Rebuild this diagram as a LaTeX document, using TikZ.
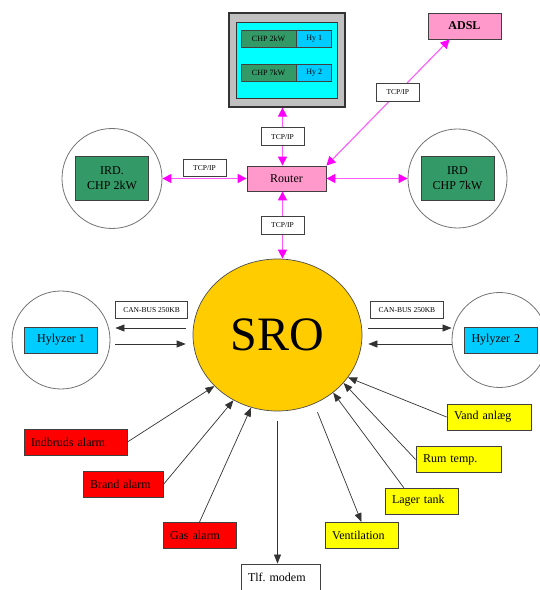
\documentclass[tikz,border=0pt]{standalone}
\usepackage{fontspec}
\setmainfont{Liberation Serif}
\usetikzlibrary{arrows.meta,shapes.geometric,calc}

\definecolor{irdgreen}{RGB}{51,153,102}
\definecolor{hycyan}{RGB}{0,204,255}
\definecolor{moncyan}{RGB}{0,255,255}
\definecolor{mongray}{RGB}{192,192,192}
\definecolor{netpink}{RGB}{255,153,204}
\definecolor{sroyellow}{RGB}{255,204,0}
\definecolor{alarmred}{RGB}{255,0,0}
\definecolor{sensoryellow}{RGB}{255,255,0}
\definecolor{netmag}{RGB}{255,0,255}

\begin{document}
\frenchspacing
\begin{tikzpicture}[x=1pt,y=1pt,
	box/.style={draw=black!75, line width=0.8pt, inner sep=0pt, font=\fontsize{12}{15}\selectfont},
	sensor/.style={box, minimum height=26pt, text width=#1, align=left, inner xsep=7pt},
	minibox/.style={box, minimum height=17pt, font=\fontsize{8}{9}\selectfont},
	ring/.style={circle, draw=black!55, line width=0.8pt, minimum size=#1},
	tag/.style={draw=black!75, fill=white, line width=0.6pt, inner xsep=8pt, inner ysep=0pt,
		minimum height=17pt, font=\fontsize{7.5}{8}\selectfont},
	net/.style={draw=netmag!65, line width=1.1pt,
		{Triangle[length=9pt,width=9pt,color=netmag]}-{Triangle[length=9pt,width=9pt,color=netmag]}},
	sig/.style={draw=black!80, line width=0.7pt, -{Triangle[length=9pt,width=7pt]}}
]

	\useasboundingbox (0,0) rectangle (540,590);

	% monitor with the two CHP rows
	\node[draw=black!80, line width=1.2pt, fill=mongray, minimum width=116pt, minimum height=94pt] (mon) at (287,530) {};
	\node[draw=black!80, line width=0.8pt, fill=moncyan, minimum width=101pt, minimum height=76pt] (screen) at (mon.center) {};
	\node[minibox, fill=irdgreen, minimum width=55pt] (chpa) at (268.5,551.5) {CHP 2kW};
	\node[minibox, fill=hycyan, minimum width=35pt, anchor=west] (hya) at (chpa.east) {Hy 1};
	\node[minibox, fill=irdgreen, minimum width=55pt] (chpb) at (268.5,517.5) {CHP 7kW};
	\node[minibox, fill=hycyan, minimum width=35pt, anchor=west] (hyb) at (chpb.east) {Hy 2};

	% network
	\node[box, fill=netpink, minimum width=79pt, minimum height=25pt] (router) at (286.5,411.5) {Router};
	\node[box, fill=netpink, minimum width=73pt, minimum height=26pt] (adsl) at (464.5,564) {\bfseries ADSL};

	\node[ring=100pt] (irdac) at (112,411.5) {};
	\node[box, fill=irdgreen, minimum width=73pt, minimum height=44pt, align=center] (irda) at (irdac.center) {IRD.\\CHP 2kW};
	\node[ring=99pt] (irdbc) at (457.5,411.5) {};
	\node[box, fill=irdgreen, minimum width=73pt, minimum height=44pt, align=center] (irdb) at (irdbc.center) {IRD\\CHP 7kW};

	% central unit
	\node[ellipse, draw=black!70, line width=0.7pt, fill=sroyellow, minimum width=169pt, minimum height=152pt, inner sep=0pt] (sro) at (277.5,255) {\fontsize{48}{48}\selectfont SRO};

	% hylyzers
	\node[ring=98pt] (hyac) at (61,250) {};
	\node[box, fill=hycyan, minimum width=73pt, minimum height=26pt] (hylyza) at (hyac.center) {Hylyzer 1};
	\node[ring=95pt] (hybc) at (499.5,250) {};
	\node[box, fill=hycyan, minimum height=26pt, text width=58pt, inner xsep=7.5pt, align=left] (hylyzb) at (500.5,250) {Hylyzer 2};

	% alarms
	\node[sensor=89pt, fill=alarmred] (indbrud) at (75.5,148) {Indbruds alarm};
	\node[sensor=66pt, fill=alarmred] (brand) at (123,105.5) {Brand alarm};
	\node[sensor=59pt, fill=alarmred] (gas) at (199.5,54.5) {Gas alarm};
	\node[sensor=65pt, fill=white] (modem) at (280.5,13) {Tlf. modem};

	% sensors
	\node[sensor=70pt, fill=sensoryellow] (vand) at (489,173) {Vand anlæg};
	\node[sensor=71pt, fill=sensoryellow] (rum) at (458.5,130.5) {Rum temp.};
	\node[sensor=59pt, fill=sensoryellow] (lager) at (421.5,89) {Lager tank};
	\node[sensor=59pt, fill=sensoryellow] (vent) at (361.5,54.5) {Ventilation};

	% TCP/IP links
	\coordinate (rtop) at ([xshift=-4pt]router.north);
	\coordinate (rbot) at ([xshift=-4pt]router.south);
	\draw[net] (rtop |- mon.south) -- node[tag, minimum width=43pt, minimum height=18pt] {TCP/IP} (rtop);
	\draw[net] (rbot) -- node[tag, minimum width=43pt, minimum height=18pt] {TCP/IP} (rbot |- sro.north);
	\draw[net] (router.north east) -- node[tag, pos=0.58, minimum width=43pt, minimum height=18pt] {TCP/IP} (adsl.222);
	\draw[net] (irdac.east) -- node[tag, above=2pt, minimum width=43pt] {TCP/IP} (router.west);
	\draw[net] (router.east) -- (irdbc.west);

	% CAN-BUS links
	\coordinate (canhi) at ([yshift=7pt]sro.center);
	\coordinate (canlo) at ([yshift=-9pt]sro.center);
	\draw[sig, shorten <=7pt, shorten >=5pt] (canhi -| sro.west) -- node[tag, above=9pt] {CAN-BUS 250KB} (canhi -| hyac.east);
	\draw[sig, shorten <=5pt, shorten >=7pt] (canlo -| hyac.east) -- (canlo -| sro.west);
	\draw[sig, shorten <=6pt] (canhi -| sro.east) -- node[tag, above=9pt] {CAN-BUS 250KB} (canhi -| hybc.west);
	\draw[sig, shorten >=6pt] (canlo -| hybc.west) -- (canlo -| sro.east);

	% inputs and outputs
	\draw[sig] (indbrud.east) -- (sro.219);
	\draw[sig] (brand.east) -- (sro.236);
	\draw[sig] (gas.north) -- (sro.250);
	\draw[sig, shorten <=10pt] (sro.south) -- (sro.south |- modem.north);
	\draw[sig, shorten <=9pt] (sro.298) -- (vent.north);
	\draw[sig] (lager.143) -- (sro.314);
	\draw[sig] (rum.west) -- (sro.324);
	\draw[sig] (vand.west) -- (sro.329);

\end{tikzpicture}
\end{document}
